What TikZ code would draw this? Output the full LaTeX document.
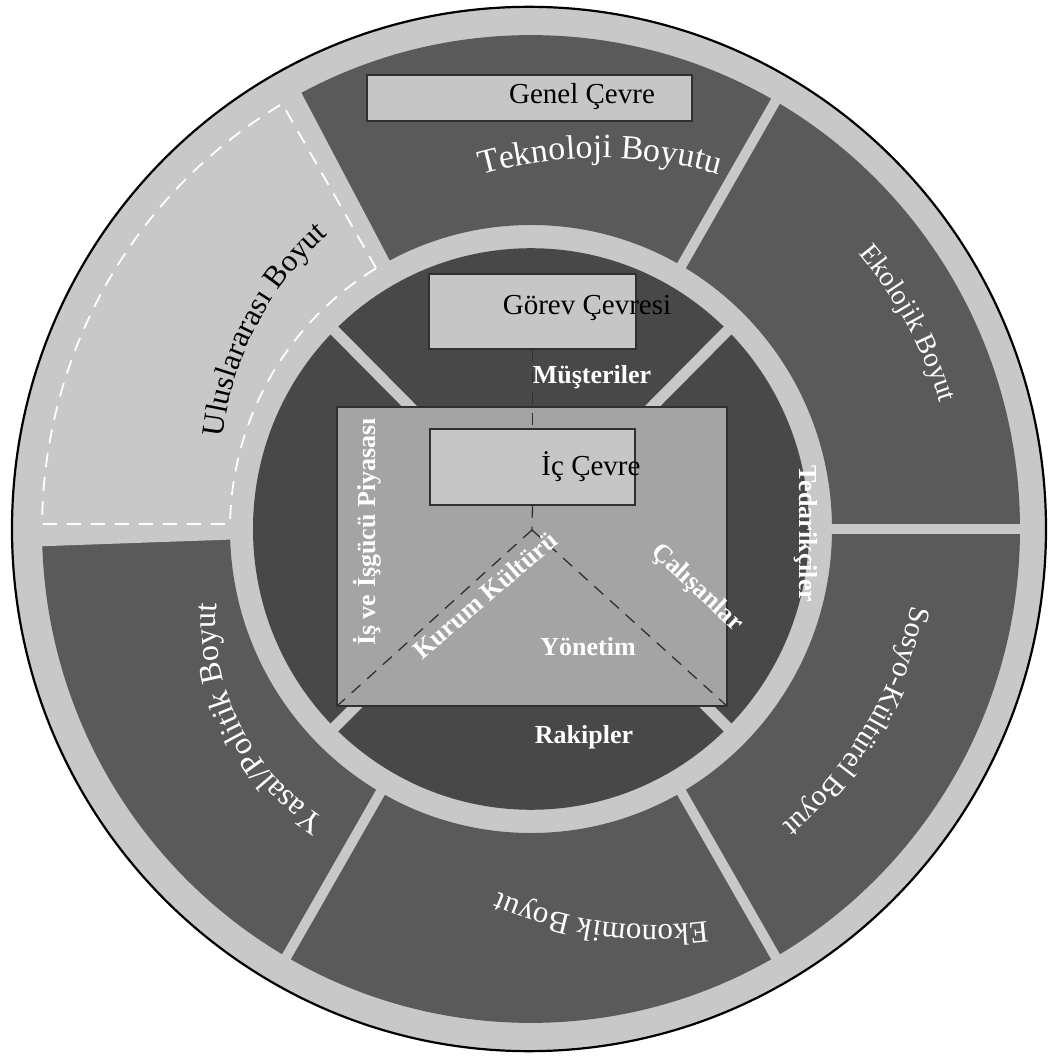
\documentclass[tikz,border=0pt]{standalone}
\usepackage{fontspec}
\setmainfont{Liberation Serif}
\usetikzlibrary{decorations.text}

\definecolor{ringlight}{HTML}{C8C8C8}
\definecolor{segdark}{HTML}{5A5A5A}
\definecolor{coredark}{HTML}{484848}
\definecolor{corefill}{HTML}{A4A4A4}
\definecolor{boxfill}{HTML}{C6C6C6}
\definecolor{edge}{HTML}{303030}

\newcommand\arcfont[1]{\fontsize{#1}{#1}\selectfont}

\begin{document}
\begin{tikzpicture}[x=1pt,y=1pt,
  boxed/.style={draw=edge, line width=1.4pt, fill=boxfill, inner sep=0pt},
  corebox/.style={draw=edge, line width=1.4pt, fill=corefill, inner sep=0pt},
  boxtext/.style={text=black, font=\fontsize{29}{29}\selectfont, inner sep=0pt},
  innerlbl/.style={text=white, font=\fontsize{26}{26}\selectfont\bfseries, inner sep=0pt},
  conn/.style={draw=edge, line width=1.3pt, dash pattern=on 12pt off 9pt},
  gapline/.style={draw=ringlight, line cap=butt},
  arclabel/.style={decorate, decoration={text along path, text align=center, text color=#1}},
  arclabel/.default=white]

\useasboundingbox (-531,-530) rectangle (517,529);
\fill[white] (-531,-530) rectangle (517,529);

% ---- rings ----
\begin{scope}[yscale=1.01]
  \filldraw[fill=ringlight, draw=black, line width=2.2pt] (-2,0) circle (517);
  \fill[segdark, even odd rule] (0,0) circle (489) (0,0) circle (301);
  % light sector of the international dimension
  \fill[ringlight] (0,0) -- (118:496) arc[start angle=118, end angle=182, radius=496] -- cycle;
  % gaps between the six outer sectors
  \foreach \a in {0,60,...,300}
    \draw[gapline, line width=10pt] (\a:294) -- (\a:496);
  % dashed outline of the international sector
  \draw[white, line width=1.8pt, dash pattern=on 14pt off 10pt]
    (120.95:301) -- (120.58:489) arc[start angle=120.58, end angle=179.42, radius=489]
    -- (179.05:301) arc[start angle=179.05, end angle=120.95, radius=301] -- cycle;
  % task environment disc and its four gaps
  \fill[coredark] (0,0) circle (278);
  \foreach \a in {45,135,225,315}
    \draw[gapline, line width=11pt] (0,0) -- (\a:286);
\end{scope}

% ---- boxes ----
\node[boxed, minimum width=325pt, minimum height=46pt] (genel) at (-1.5,431) {};
\node[boxtext] (genelt) at (51,432) {Genel Çevre};

\node[boxed, minimum width=207pt, minimum height=75pt] (gorev) at (1.5,217.5) {};
\node[boxtext] (gorevt) at (56,221) {Görev Çevresi};

\node[corebox, minimum width=390pt, minimum height=299pt] (core) at (1,-27.5) {};
\node[boxed, minimum width=205pt, minimum height=76pt] (ic) at (1.5,62) {};
\node[boxtext] (ict) at (60,62) {İç Çevre};

\coordinate (apex) at (1,-1);
\draw[conn] (gorev.south) -- (ic.north);
\draw[conn] (ic.south) -- (apex);
\draw[conn] (apex) -- (core.south west);
\draw[conn] (apex) -- (core.south east);

% ---- task and internal labels ----
\node[innerlbl] (must) at (61,152) {Müşteriler};
\node[innerlbl] (rak) at (53,-208) {Rakipler};
\node[innerlbl] (yon) at (57,-118) {Yönetim};
\node[innerlbl, rotate=90] (isgucu) at (-164,-3) {İş ve İşgücü Piyasası};
\node[innerlbl, rotate=-90] (tedarik) at (275,-5) {Tedarikçiler};
\node[innerlbl, rotate=40.5] (kultur) at (-46,-66) {Kurum Kültürü};
\node[innerlbl, rotate=-43] (calisan) at (166,-59) {Çalışanlar};

% ---- general environment dimensions, set along arcs ----
\path[arclabel, decoration={text={|\arcfont{34}|Teknoloji Boyutu}}]
  (69,-68) ++(110:439) arc[start angle=110, end angle=70, radius=439];
\path[arclabel, decoration={text={|\arcfont{28}|Ekolojik Boyut}}]
  (0,0) ++(58.6:428) arc[start angle=58.6, end angle=-1.4, radius=428];
\path[arclabel, decoration={text={|\arcfont{29.5}|Sosyo-Kültürel Boyut}}]
  (0,0) ++(-0.5:388) arc[start angle=-0.5, end angle=-60.5, radius=388];
\path[arclabel, decoration={text={|\arcfont{31}|Ekonomik Boyut}}]
  (126,5) ++(-68:401) arc[start angle=-68, end angle=-128, radius=401];
\path[arclabel, decoration={text={|\arcfont{32}|Yasal/Politik Boyut}}]
  (-79,-91) ++(246.8:236) arc[start angle=246.8, end angle=166.8, radius=236];
\path[arclabel=black, decoration={text={|\arcfont{31}|Uluslararası Boyut}}]
  (6,57) ++(187.5:316) arc[start angle=187.5, end angle=117.5, radius=316];

\end{tikzpicture}
\end{document}
